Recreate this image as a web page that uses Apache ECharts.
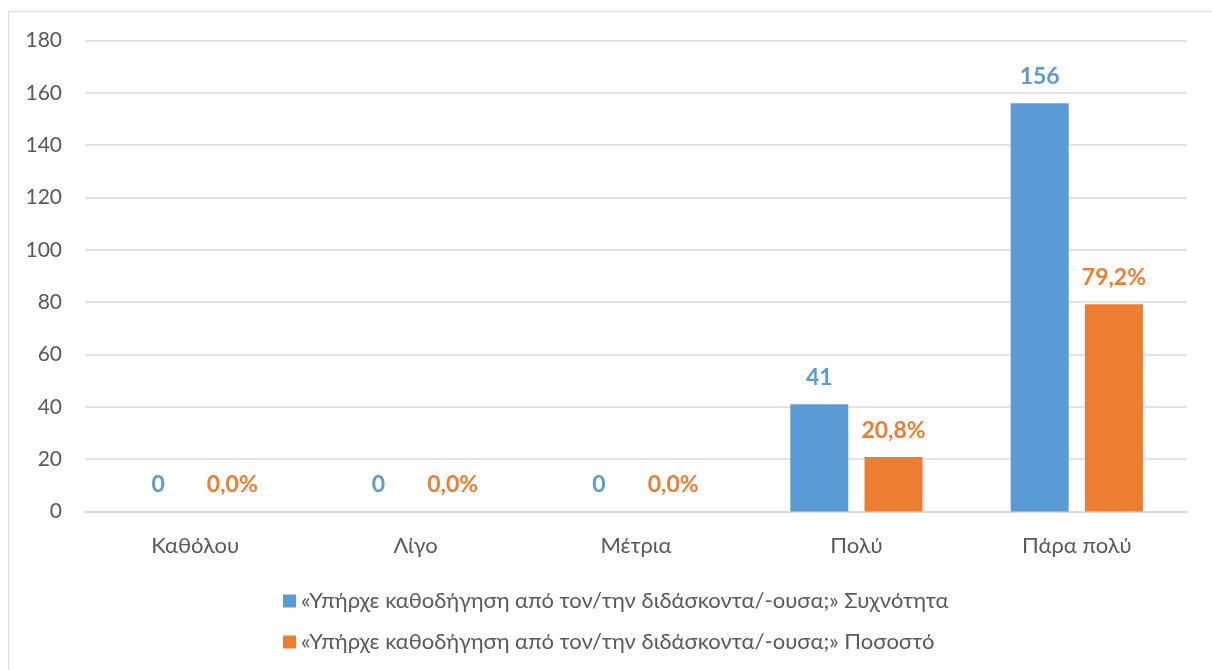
<!DOCTYPE html>
<html>
<head>
<meta charset="utf-8">
<script src="https://cdn.jsdelivr.net/npm/echarts@6/dist/echarts.min.js"></script>
<style>
  body { margin: 0; background: #fff; }
  #frame { position: absolute; left: 8px; top: 11px; width: 1400px; height: 900px; border: 1px solid #d9d9d9; }
  #chart { position: absolute; left: 0; top: 0; width: 1212px; height: 670px; }
</style>
</head>
<body>
<div id="frame"></div>
<div id="chart"></div>
<script>
// κατηγορίες και τιμές
var categories = ['Καθόλου', 'Λίγο', 'Μέτρια', 'Πολύ', 'Πάρα πολύ'];
var freqValues = [0, 0, 0, 41, 156];
var pctValues = [0, 0, 0, 20.8, 79.2];
var seriesNames = [
  '«Υπήρχε καθοδήγηση από τον/την διδάσκοντα/-ουσα;» Συχνότητα',
  '«Υπήρχε καθοδήγηση από τον/την διδάσκοντα/-ουσα;» Ποσοστό'
];

(function () {
  var myChart = echarts.init(document.getElementById('chart'));
  var font = 'Lato, "Open Sans", sans-serif';
  var option = {
    color: ['#5b9bd5', '#ed7d31'],
    textStyle: { fontFamily: font },
    grid: {
      left: 85,
      right: 25,
      top: 40.5,
      height: 471
    },
    legend: {
      orient: 'vertical',
      left: 278,
      top: 585,
      itemGap: 19,
      itemWidth: 13,
      itemHeight: 13,
      icon: 'rect',
      textStyle: { color: '#595959', fontSize: 22, fontFamily: font }
    },
    xAxis: {
      type: 'category',
      data: categories,
      axisTick: { show: false },
      axisLine: { lineStyle: { color: '#d9d9d9', width: 1.5 } },
      axisLabel: { color: '#595959', fontSize: 22, margin: 23, fontFamily: font }
    },
    yAxis: {
      type: 'value',
      min: 0,
      max: 180,
      interval: 20,
      axisLine: { show: false },
      axisTick: { show: false },
      axisLabel: { color: '#595959', fontSize: 21, margin: 23, fontFamily: font },
      splitLine: { lineStyle: { color: '#d9d9d9', width: 1.5 } }
    },
    series: [
      {
        name: seriesNames[0],
        type: 'bar',
        data: freqValues,
        barWidth: 58,
        barGap: '28%',
        label: {
          show: true,
          position: 'top',
          distance: 15,
          color: '#5b9bd5',
          fontSize: 23,
          fontWeight: 'bold',
          fontFamily: font
        }
      },
      {
        name: seriesNames[1],
        type: 'bar',
        data: pctValues,
        barWidth: 58,
        barGap: '28%',
        label: {
          show: true,
          position: 'top',
          distance: 15,
          color: '#ed7d31',
          fontSize: 23,
          fontWeight: 'bold',
          fontFamily: font,
          formatter: function (p) {
            return p.value.toFixed(1).replace('.', ',') + '%';
          }
        }
      }
    ]
  };
  myChart.setOption(option);
})();
</script>
</body>
</html>
